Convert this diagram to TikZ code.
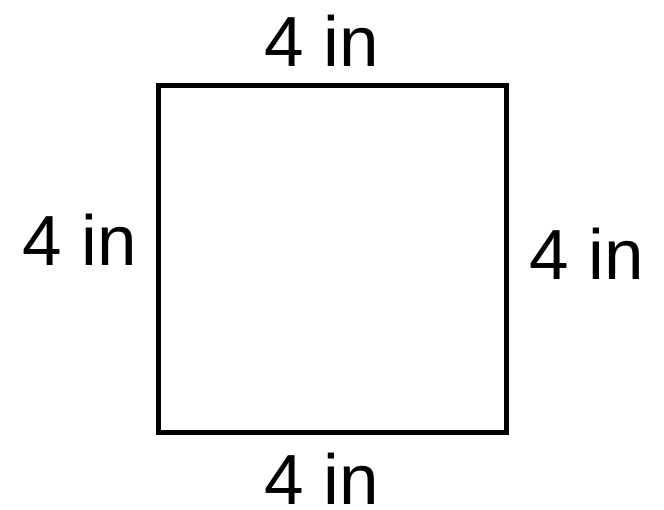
\documentclass[tikz,border=0pt]{standalone}
\usepackage{fontspec}
\setmainfont{Liberation Sans}
\begin{document}
\begin{tikzpicture}[x=1pt,y=-1pt,
  lbl/.style={font=\fontsize{71}{80}\selectfont, inner sep=0pt}]
\useasboundingbox (0,0) rectangle (664,509);
\node[draw, line width=4.5pt, minimum width=348pt, minimum height=347pt, inner sep=0pt] (sq) at (332.5,259) {};
\node[lbl] (top) at (321.5,41) {4 in};
\node[lbl] (bot) at (321.5,479) {4 in};
\node[lbl] (left) at (80,240) {4 in};
\node[lbl] (right) at (587,254) {4 in};
\end{tikzpicture}
\end{document}
